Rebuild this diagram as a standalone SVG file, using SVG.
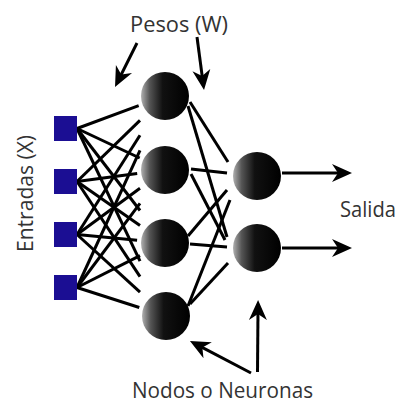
<svg xmlns="http://www.w3.org/2000/svg" width="398" height="405" viewBox="0 0 398 405">
<defs>
<linearGradient id="ball" x1="0" y1="0" x2="1" y2="0">
<stop offset="0" stop-color="#b0b0b0"/>
<stop offset="0.18" stop-color="#555"/>
<stop offset="0.45" stop-color="#111"/>
<stop offset="1" stop-color="#000"/>
</linearGradient>
<marker id="head" markerUnits="userSpaceOnUse" markerWidth="20" markerHeight="20" viewBox="0 0 20 20" refX="10" refY="10" orient="auto">
<path d="M0,1 L20,10 L0,19 L6,10 z" fill="#000"/>
</marker>
<style>
.sq{fill:#1b0e93}
.nd{fill:url(#ball)}
.ln{stroke:#000;stroke-width:3;fill:none}
.ar{stroke:#000;stroke-width:3;fill:none;marker-end:url(#head)}
.tx{font-family:"Open Sans","Liberation Sans",sans-serif;font-size:21px;fill:#333}
</style>
</defs>
<rect width="398" height="405" fill="#fff"/>
<g id="connectors">
<line class="ln" x1="77" y1="128.5" x2="138.7" y2="105.7"/>
<line class="ln" x1="77" y1="128.5" x2="139.7" y2="158"/>
<line class="ln" x1="77" y1="128.5" x2="140" y2="210.5"/>
<line class="ln" x1="77" y1="128.5" x2="140" y2="261.2"/>
<line class="ln" x1="77" y1="181.5" x2="140" y2="120.3"/>
<line class="ln" x1="77" y1="181.5" x2="137.2" y2="173.6"/>
<line class="ln" x1="77" y1="181.5" x2="140" y2="225.5"/>
<line class="ln" x1="77" y1="181.5" x2="140" y2="276.7"/>
<line class="ln" x1="77" y1="234.5" x2="140" y2="135.3"/>
<line class="ln" x1="77" y1="234.5" x2="140" y2="188.3"/>
<line class="ln" x1="77" y1="234.5" x2="137.1" y2="240.3"/>
<line class="ln" x1="77" y1="234.5" x2="140" y2="292.2"/>
<line class="ln" x1="77" y1="287.5" x2="140" y2="150.4"/>
<line class="ln" x1="77" y1="287.5" x2="140" y2="203.4"/>
<line class="ln" x1="77" y1="287.5" x2="140" y2="255.6"/>
<line class="ln" x1="77" y1="287.5" x2="139.3" y2="307.5"/>
<line class="ln" x1="190" y1="102" x2="228" y2="162"/>
<line class="ln" x1="188" y1="106" x2="227" y2="237"/>
<line class="ln" x1="191" y1="169" x2="227" y2="173"/>
<line class="ln" x1="191" y1="174" x2="225" y2="240"/>
<line class="ln" x1="188" y1="236" x2="227" y2="190"/>
<line class="ln" x1="190" y1="244" x2="227" y2="247"/>
<line class="ln" x1="188" y1="306" x2="230" y2="200"/>
<line class="ln" x1="190" y1="304" x2="228" y2="263"/>
<line class="ar" x1="282" y1="173" x2="342" y2="173"/>
<line class="ar" x1="282" y1="248" x2="342" y2="248"/>
<line class="ar" x1="137" y1="43" x2="119.5" y2="78"/>
<line class="ar" x1="197" y1="37" x2="202.7" y2="80"/>
<line class="ar" x1="251" y1="373" x2="198.8" y2="345.7"/>
<line class="ar" x1="257.5" y1="372" x2="258" y2="310"/>
</g>
<g id="x1"><rect class="sq" x="54" y="116" width="23" height="25"/></g>
<g id="x2"><rect class="sq" x="54" y="169" width="23" height="25"/></g>
<g id="x3"><rect class="sq" x="54" y="222" width="23" height="25"/></g>
<g id="x4"><rect class="sq" x="54" y="275" width="23" height="25"/></g>
<g id="h1"><circle class="nd" cx="165" cy="96" r="24"/></g>
<g id="h2"><circle class="nd" cx="165" cy="170" r="24"/></g>
<g id="h3"><circle class="nd" cx="165" cy="243" r="24"/></g>
<g id="h4"><circle class="nd" cx="166" cy="316" r="24"/></g>
<g id="o1"><circle class="nd" cx="257" cy="176" r="24"/></g>
<g id="o2"><circle class="nd" cx="257" cy="248" r="24"/></g>
<g id="labels">
<text class="tx" x="130" y="32" textLength="98" lengthAdjust="spacingAndGlyphs">Pesos (W)</text>
<text class="tx" x="340" y="217" textLength="56" lengthAdjust="spacingAndGlyphs">Salida</text>
<text class="tx" x="132" y="398" textLength="181" lengthAdjust="spacingAndGlyphs">Nodos o Neuronas</text>
<text class="tx" transform="translate(33,252) rotate(-90)" x="0" y="0" textLength="117" lengthAdjust="spacingAndGlyphs">Entradas (X)</text>
</g>
</svg>
